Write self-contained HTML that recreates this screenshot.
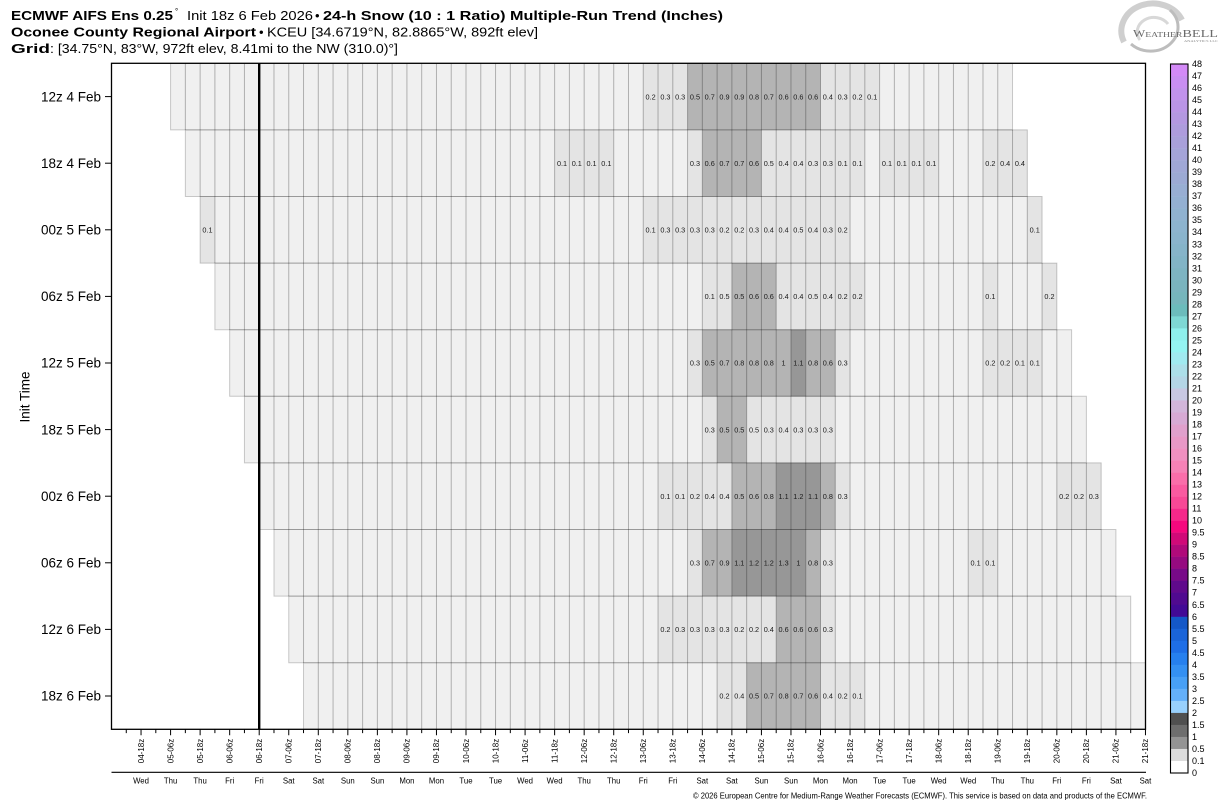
<!DOCTYPE html>
<html>
<head>
<meta charset="utf-8">
<style>
  html,body{margin:0;padding:0;background:#fff;}
  body{width:1226px;height:808px;overflow:hidden;}
  svg{display:block;font-family:"Liberation Sans",sans-serif;}
</style>
</head>
<body>
<svg width="1226" height="808" viewBox="0 0 1226 808" xmlns="http://www.w3.org/2000/svg">
  <!-- Title -->
  <g fill="#000" font-size="13">
    <text x="11" y="20" font-weight="bold" textLength="162" lengthAdjust="spacingAndGlyphs">ECMWF AIFS Ens 0.25</text>
    <text x="175" y="14" font-size="8">°</text>
    <text x="187" y="20" textLength="126" lengthAdjust="spacingAndGlyphs">Init 18z 6 Feb 2026</text>
    <text x="315" y="20">•</text>
    <text x="323" y="20" font-weight="bold" textLength="400" lengthAdjust="spacingAndGlyphs">24-h Snow (10 : 1 Ratio) Multiple-Run Trend (Inches)</text>

    <text x="11" y="36.5" font-weight="bold" textLength="245" lengthAdjust="spacingAndGlyphs">Oconee County Regional Airport</text>
    <text x="259" y="36.5">•</text>
    <text x="267" y="36.5" textLength="271" lengthAdjust="spacingAndGlyphs">KCEU [34.6719°N, 82.8865°W, 892ft elev]</text>

    <text x="11" y="53" font-weight="bold" textLength="39" lengthAdjust="spacingAndGlyphs">Grid</text>
    <text x="50" y="53" textLength="348" lengthAdjust="spacingAndGlyphs">: [34.75°N, 83°W, 972ft elev, 8.41mi to the NW (310.0)°]</text>
  </g>

  <!-- Logo -->
  <g fill="none">
    <path d="M1124,42 A31,27 0 1,1 1182,20" stroke="#cfcfcf" stroke-width="6"/>
    <path d="M1131,44 A24,21 0 1,0 1170,10" stroke="#bdbdbd" stroke-width="3"/>
    <path d="M1140,40 A15,13 0 1,1 1168,24" stroke="#d8d8d8" stroke-width="3"/>
  </g>
  <text x="1133" y="37" font-family="Liberation Serif, serif" fill="#6a6a6a" font-size="10" textLength="85" lengthAdjust="spacingAndGlyphs">W<tspan font-size="7.5">EATHER</tspan><tspan font-size="11">BELL</tspan></text>
  <text x="1184" y="42" font-family="Liberation Serif, serif" fill="#8a8a8a" font-size="3.5" textLength="34" lengthAdjust="spacingAndGlyphs">ANALYTICS LLC</text>

  <!-- Cell fills -->
  <g transform="translate(111.5 63.3) scale(14.771 66.6)">
    <g fill="#f0f0f0">
      <rect x="4" y="0" width="57" height="1"/>
      <rect x="5" y="1" width="57" height="1"/>
      <rect x="6" y="2" width="57" height="1"/>
      <rect x="7" y="3" width="57" height="1"/>
      <rect x="8" y="4" width="57" height="1"/>
      <rect x="9" y="5" width="57" height="1"/>
      <rect x="10" y="6" width="57" height="1"/>
      <rect x="11" y="7" width="57" height="1"/>
      <rect x="12" y="8" width="57" height="1"/>
      <rect x="13" y="9" width="57" height="1"/>
    </g>
    <g fill="#e4e4e4">
      <rect x="36" y="0" width="3" height="1"/>
      <rect x="48" y="0" width="4" height="1"/>
      <rect x="30" y="1" width="4" height="1"/>
      <rect x="39" y="1" width="1" height="1"/>
      <rect x="44" y="1" width="7" height="1"/>
      <rect x="52" y="1" width="4" height="1"/>
      <rect x="59" y="1" width="3" height="1"/>
      <rect x="6" y="2" width="1" height="1"/>
      <rect x="36" y="2" width="14" height="1"/>
      <rect x="62" y="2" width="1" height="1"/>
      <rect x="40" y="3" width="2" height="1"/>
      <rect x="45" y="3" width="6" height="1"/>
      <rect x="59" y="3" width="1" height="1"/>
      <rect x="63" y="3" width="1" height="1"/>
      <rect x="39" y="4" width="1" height="1"/>
      <rect x="49" y="4" width="1" height="1"/>
      <rect x="59" y="4" width="4" height="1"/>
      <rect x="40" y="5" width="1" height="1"/>
      <rect x="43" y="5" width="6" height="1"/>
      <rect x="37" y="6" width="5" height="1"/>
      <rect x="49" y="6" width="1" height="1"/>
      <rect x="64" y="6" width="3" height="1"/>
      <rect x="39" y="7" width="1" height="1"/>
      <rect x="48" y="7" width="1" height="1"/>
      <rect x="58" y="7" width="2" height="1"/>
      <rect x="37" y="8" width="8" height="1"/>
      <rect x="48" y="8" width="1" height="1"/>
      <rect x="41" y="9" width="2" height="1"/>
      <rect x="48" y="9" width="3" height="1"/>
    </g>
    <g fill="#b4b4b4">
      <rect x="39" y="0" width="9" height="1"/>
      <rect x="40" y="1" width="4" height="1"/>
      <rect x="42" y="3" width="3" height="1"/>
      <rect x="40" y="4" width="6" height="1"/>
      <rect x="47" y="4" width="2" height="1"/>
      <rect x="41" y="5" width="2" height="1"/>
      <rect x="42" y="6" width="3" height="1"/>
      <rect x="48" y="6" width="1" height="1"/>
      <rect x="40" y="7" width="2" height="1"/>
      <rect x="47" y="7" width="1" height="1"/>
      <rect x="45" y="8" width="3" height="1"/>
      <rect x="43" y="9" width="5" height="1"/>
    </g>
    <g fill="#979797">
      <rect x="46" y="4" width="1" height="1"/>
      <rect x="45" y="6" width="3" height="1"/>
      <rect x="42" y="7" width="5" height="1"/>
    </g>

    <!-- internal vertical lines -->
    <g stroke="#000" stroke-opacity="0.27" stroke-width="1" stroke-dasharray="0.0677 0.9323" fill="none">
      <line x1="4.9661" y1="0.5" x2="60.5" y2="0.5"/>
      <line x1="5.9661" y1="1.5" x2="61.5" y2="1.5"/>
      <line x1="6.9661" y1="2.5" x2="62.5" y2="2.5"/>
      <line x1="7.9661" y1="3.5" x2="63.5" y2="3.5"/>
      <line x1="8.9661" y1="4.5" x2="64.5" y2="4.5"/>
      <line x1="9.9661" y1="5.5" x2="65.5" y2="5.5"/>
      <line x1="10.9661" y1="6.5" x2="66.5" y2="6.5"/>
      <line x1="11.9661" y1="7.5" x2="67.5" y2="7.5"/>
      <line x1="12.9661" y1="8.5" x2="68.5" y2="8.5"/>
      <line x1="13.9661" y1="9.5" x2="69.5" y2="9.5"/>
    </g>
    <!-- row outlines -->
    <g fill="none" stroke="#000" stroke-opacity="0.2" stroke-width="1" vector-effect="non-scaling-stroke">
      <rect x="4" y="0" width="57" height="1" vector-effect="non-scaling-stroke"/>
      <rect x="5" y="1" width="57" height="1" vector-effect="non-scaling-stroke"/>
      <rect x="6" y="2" width="57" height="1" vector-effect="non-scaling-stroke"/>
      <rect x="7" y="3" width="57" height="1" vector-effect="non-scaling-stroke"/>
      <rect x="8" y="4" width="57" height="1" vector-effect="non-scaling-stroke"/>
      <rect x="9" y="5" width="57" height="1" vector-effect="non-scaling-stroke"/>
      <rect x="10" y="6" width="57" height="1" vector-effect="non-scaling-stroke"/>
      <rect x="11" y="7" width="57" height="1" vector-effect="non-scaling-stroke"/>
      <rect x="12" y="8" width="57" height="1" vector-effect="non-scaling-stroke"/>
      <rect x="13" y="9" width="57" height="1" vector-effect="non-scaling-stroke"/>
    </g>
  </g>

  <!-- Cell values -->
  <g font-size="7.3" fill="#1a1a1a" text-anchor="middle">
    <text y="99.3"><tspan x="650.64">0.2</tspan><tspan x="665.41">0.3</tspan><tspan x="680.18">0.3</tspan><tspan x="694.95">0.5</tspan><tspan x="709.73">0.7</tspan><tspan x="724.50">0.9</tspan><tspan x="739.27">0.9</tspan><tspan x="754.04">0.8</tspan><tspan x="768.81">0.7</tspan><tspan x="783.58">0.6</tspan><tspan x="798.35">0.6</tspan><tspan x="813.12">0.6</tspan><tspan x="827.89">0.4</tspan><tspan x="842.66">0.3</tspan><tspan x="857.44">0.2</tspan><tspan x="872.21">0.1</tspan></text>
    <text y="165.9"><tspan x="562.02">0.1</tspan><tspan x="576.79">0.1</tspan><tspan x="591.56">0.1</tspan><tspan x="606.33">0.1</tspan><tspan x="694.95">0.3</tspan><tspan x="709.73">0.6</tspan><tspan x="724.50">0.7</tspan><tspan x="739.27">0.7</tspan><tspan x="754.04">0.6</tspan><tspan x="768.81">0.5</tspan><tspan x="783.58">0.4</tspan><tspan x="798.35">0.4</tspan><tspan x="813.12">0.3</tspan><tspan x="827.89">0.3</tspan><tspan x="842.66">0.1</tspan><tspan x="857.44">0.1</tspan><tspan x="886.98">0.1</tspan><tspan x="901.75">0.1</tspan><tspan x="916.52">0.1</tspan><tspan x="931.29">0.1</tspan><tspan x="990.37">0.2</tspan><tspan x="1005.15">0.4</tspan><tspan x="1019.92">0.4</tspan></text>
    <text y="232.5"><tspan x="207.51">0.1</tspan><tspan x="650.64">0.1</tspan><tspan x="665.41">0.3</tspan><tspan x="680.18">0.3</tspan><tspan x="694.95">0.3</tspan><tspan x="709.73">0.3</tspan><tspan x="724.50">0.2</tspan><tspan x="739.27">0.2</tspan><tspan x="754.04">0.3</tspan><tspan x="768.81">0.4</tspan><tspan x="783.58">0.4</tspan><tspan x="798.35">0.5</tspan><tspan x="813.12">0.4</tspan><tspan x="827.89">0.3</tspan><tspan x="842.66">0.2</tspan><tspan x="1034.69">0.1</tspan></text>
    <text y="299.1"><tspan x="709.73">0.1</tspan><tspan x="724.50">0.5</tspan><tspan x="739.27">0.5</tspan><tspan x="754.04">0.6</tspan><tspan x="768.81">0.6</tspan><tspan x="783.58">0.4</tspan><tspan x="798.35">0.4</tspan><tspan x="813.12">0.5</tspan><tspan x="827.89">0.4</tspan><tspan x="842.66">0.2</tspan><tspan x="857.44">0.2</tspan><tspan x="990.37">0.1</tspan><tspan x="1049.46">0.2</tspan></text>
    <text y="365.7"><tspan x="694.95">0.3</tspan><tspan x="709.73">0.5</tspan><tspan x="724.50">0.7</tspan><tspan x="739.27">0.8</tspan><tspan x="754.04">0.8</tspan><tspan x="768.81">0.8</tspan><tspan x="783.58">1</tspan><tspan x="798.35">1.1</tspan><tspan x="813.12">0.8</tspan><tspan x="827.89">0.6</tspan><tspan x="842.66">0.3</tspan><tspan x="990.37">0.2</tspan><tspan x="1005.15">0.2</tspan><tspan x="1019.92">0.1</tspan><tspan x="1034.69">0.1</tspan></text>
    <text y="432.3"><tspan x="709.73">0.3</tspan><tspan x="724.50">0.5</tspan><tspan x="739.27">0.5</tspan><tspan x="754.04">0.5</tspan><tspan x="768.81">0.3</tspan><tspan x="783.58">0.4</tspan><tspan x="798.35">0.3</tspan><tspan x="813.12">0.3</tspan><tspan x="827.89">0.3</tspan></text>
    <text y="498.9"><tspan x="665.41">0.1</tspan><tspan x="680.18">0.1</tspan><tspan x="694.95">0.2</tspan><tspan x="709.73">0.4</tspan><tspan x="724.50">0.4</tspan><tspan x="739.27">0.5</tspan><tspan x="754.04">0.6</tspan><tspan x="768.81">0.8</tspan><tspan x="783.58">1.1</tspan><tspan x="798.35">1.2</tspan><tspan x="813.12">1.1</tspan><tspan x="827.89">0.8</tspan><tspan x="842.66">0.3</tspan><tspan x="1064.23">0.2</tspan><tspan x="1079.00">0.2</tspan><tspan x="1093.77">0.3</tspan></text>
    <text y="565.5"><tspan x="694.95">0.3</tspan><tspan x="709.73">0.7</tspan><tspan x="724.50">0.9</tspan><tspan x="739.27">1.1</tspan><tspan x="754.04">1.2</tspan><tspan x="768.81">1.2</tspan><tspan x="783.58">1.3</tspan><tspan x="798.35">1</tspan><tspan x="813.12">0.8</tspan><tspan x="827.89">0.3</tspan><tspan x="975.60">0.1</tspan><tspan x="990.37">0.1</tspan></text>
    <text y="632.1"><tspan x="665.41">0.2</tspan><tspan x="680.18">0.3</tspan><tspan x="694.95">0.3</tspan><tspan x="709.73">0.3</tspan><tspan x="724.50">0.3</tspan><tspan x="739.27">0.2</tspan><tspan x="754.04">0.2</tspan><tspan x="768.81">0.4</tspan><tspan x="783.58">0.6</tspan><tspan x="798.35">0.6</tspan><tspan x="813.12">0.6</tspan><tspan x="827.89">0.3</tspan></text>
    <text y="698.7"><tspan x="724.50">0.2</tspan><tspan x="739.27">0.4</tspan><tspan x="754.04">0.5</tspan><tspan x="768.81">0.7</tspan><tspan x="783.58">0.8</tspan><tspan x="798.35">0.7</tspan><tspan x="813.12">0.6</tspan><tspan x="827.89">0.4</tspan><tspan x="842.66">0.2</tspan><tspan x="857.44">0.1</tspan></text>
  </g>

  <!-- Plot frame & current time line -->
  <rect x="111.5" y="63.3" width="1034" height="666" fill="none" stroke="#000" stroke-width="1.3"/>
  <line x1="259.2" y1="63.3" x2="259.2" y2="729.3" stroke="#000" stroke-width="2.4"/>

  <!-- Y axis -->
  <g stroke="#000" stroke-width="1">
    <line x1="105" y1="96.6" x2="111.5" y2="96.6"/>
    <line x1="105" y1="163.2" x2="111.5" y2="163.2"/>
    <line x1="105" y1="229.8" x2="111.5" y2="229.8"/>
    <line x1="105" y1="296.4" x2="111.5" y2="296.4"/>
    <line x1="105" y1="363.0" x2="111.5" y2="363.0"/>
    <line x1="105" y1="429.6" x2="111.5" y2="429.6"/>
    <line x1="105" y1="496.2" x2="111.5" y2="496.2"/>
    <line x1="105" y1="562.8" x2="111.5" y2="562.8"/>
    <line x1="105" y1="629.4" x2="111.5" y2="629.4"/>
    <line x1="105" y1="696.0" x2="111.5" y2="696.0"/>
  </g>
  <g font-size="13.5" fill="#000" text-anchor="end">
    <text x="101" y="101.3">12z 4 Feb</text>
    <text x="101" y="167.9">18z 4 Feb</text>
    <text x="101" y="234.5">00z 5 Feb</text>
    <text x="101" y="301.1">06z 5 Feb</text>
    <text x="101" y="367.7">12z 5 Feb</text>
    <text x="101" y="434.3">18z 5 Feb</text>
    <text x="101" y="500.9">00z 6 Feb</text>
    <text x="101" y="567.5">06z 6 Feb</text>
    <text x="101" y="634.1">12z 6 Feb</text>
    <text x="101" y="700.7">18z 6 Feb</text>
  </g>
  <text transform="translate(29.5 397) rotate(-90)" text-anchor="middle" font-size="13.5" fill="#000">Init Time</text>

  <!-- X axis ticks -->
  <line x1="140.54" y1="732.3" x2="1147" y2="732.3" stroke="#000" stroke-width="6" stroke-dasharray="1 28.542"/>
  <line x1="125.77" y1="731.2" x2="1132" y2="731.2" stroke="#000" stroke-width="3.8" stroke-dasharray="1 28.542"/>

  <!-- X axis rotated labels -->
  <g font-size="8" fill="#000" text-anchor="middle">
    <text transform="translate(143.8 751) rotate(-90)">04-18z</text>
    <text transform="translate(173.3 751) rotate(-90)">05-06z</text>
    <text transform="translate(202.9 751) rotate(-90)">05-18z</text>
    <text transform="translate(232.4 751) rotate(-90)">06-06z</text>
    <text transform="translate(262.0 751) rotate(-90)">06-18z</text>
    <text transform="translate(291.5 751) rotate(-90)">07-06z</text>
    <text transform="translate(321.0 751) rotate(-90)">07-18z</text>
    <text transform="translate(350.6 751) rotate(-90)">08-06z</text>
    <text transform="translate(380.1 751) rotate(-90)">08-18z</text>
    <text transform="translate(409.7 751) rotate(-90)">09-06z</text>
    <text transform="translate(439.2 751) rotate(-90)">09-18z</text>
    <text transform="translate(468.8 751) rotate(-90)">10-06z</text>
    <text transform="translate(498.3 751) rotate(-90)">10-18z</text>
    <text transform="translate(527.8 751) rotate(-90)">11-06z</text>
    <text transform="translate(557.4 751) rotate(-90)">11-18z</text>
    <text transform="translate(586.9 751) rotate(-90)">12-06z</text>
    <text transform="translate(616.5 751) rotate(-90)">12-18z</text>
    <text transform="translate(646.0 751) rotate(-90)">13-06z</text>
    <text transform="translate(675.5 751) rotate(-90)">13-18z</text>
    <text transform="translate(705.1 751) rotate(-90)">14-06z</text>
    <text transform="translate(734.6 751) rotate(-90)">14-18z</text>
    <text transform="translate(764.2 751) rotate(-90)">15-06z</text>
    <text transform="translate(793.7 751) rotate(-90)">15-18z</text>
    <text transform="translate(823.3 751) rotate(-90)">16-06z</text>
    <text transform="translate(852.8 751) rotate(-90)">16-18z</text>
    <text transform="translate(882.3 751) rotate(-90)">17-06z</text>
    <text transform="translate(911.9 751) rotate(-90)">17-18z</text>
    <text transform="translate(941.4 751) rotate(-90)">18-06z</text>
    <text transform="translate(971.0 751) rotate(-90)">18-18z</text>
    <text transform="translate(1000.5 751) rotate(-90)">19-06z</text>
    <text transform="translate(1030.0 751) rotate(-90)">19-18z</text>
    <text transform="translate(1059.6 751) rotate(-90)">20-06z</text>
    <text transform="translate(1089.1 751) rotate(-90)">20-18z</text>
    <text transform="translate(1118.7 751) rotate(-90)">21-06z</text>
    <text transform="translate(1148.2 751) rotate(-90)">21-18z</text>
  </g>

  <line x1="111.5" y1="772.3" x2="1146" y2="772.3" stroke="#000" stroke-width="1.2"/>

  <!-- Day names -->
  <text y="783.5" font-size="7.8" fill="#000" text-anchor="middle"><tspan x="141.04">Wed</tspan><tspan x="170.58">Thu</tspan><tspan x="200.13">Thu</tspan><tspan x="229.67">Fri</tspan><tspan x="259.21">Fri</tspan><tspan x="288.75">Sat</tspan><tspan x="318.29">Sat</tspan><tspan x="347.84">Sun</tspan><tspan x="377.38">Sun</tspan><tspan x="406.92">Mon</tspan><tspan x="436.46">Mon</tspan><tspan x="466.00">Tue</tspan><tspan x="495.55">Tue</tspan><tspan x="525.09">Wed</tspan><tspan x="554.63">Wed</tspan><tspan x="584.17">Thu</tspan><tspan x="613.71">Thu</tspan><tspan x="643.26">Fri</tspan><tspan x="672.80">Fri</tspan><tspan x="702.34">Sat</tspan><tspan x="731.88">Sat</tspan><tspan x="761.42">Sun</tspan><tspan x="790.97">Sun</tspan><tspan x="820.51">Mon</tspan><tspan x="850.05">Mon</tspan><tspan x="879.59">Tue</tspan><tspan x="909.13">Tue</tspan><tspan x="938.68">Wed</tspan><tspan x="968.22">Wed</tspan><tspan x="997.76">Thu</tspan><tspan x="1027.30">Thu</tspan><tspan x="1056.84">Fri</tspan><tspan x="1086.39">Fri</tspan><tspan x="1115.93">Sat</tspan><tspan x="1145.47">Sat</tspan></text>

  <!-- Copyright -->
  <text x="693" y="798.5" font-size="8.3" fill="#000" textLength="454" lengthAdjust="spacingAndGlyphs">© 2026 European Centre for Medium-Range Weather Forecasts (ECMWF). This service is based on data and products of the ECMWF.</text>

  <!-- Colorbar -->
  <g transform="translate(1170.5 64) scale(17.5 12.017)">
    <rect x="0" y="0" width="1" height="1.02" fill="#d38af7"/>
    <rect x="0" y="1" width="1" height="1.02" fill="#c98ef2"/>
    <rect x="0" y="2" width="1" height="1.02" fill="#c192ec"/>
    <rect x="0" y="3" width="1" height="1.02" fill="#ba95e6"/>
    <rect x="0" y="4" width="1" height="1.02" fill="#b498e1"/>
    <rect x="0" y="5" width="1" height="1.02" fill="#ae9cdd"/>
    <rect x="0" y="6" width="1" height="1.02" fill="#a9a0da"/>
    <rect x="0" y="7" width="1" height="1.02" fill="#a5a4d8"/>
    <rect x="0" y="8" width="1" height="1.02" fill="#a0a8d6"/>
    <rect x="0" y="9" width="1" height="1.02" fill="#9caad4"/>
    <rect x="0" y="10" width="1" height="1.02" fill="#98aed3"/>
    <rect x="0" y="11" width="1" height="1.02" fill="#94b0d2"/>
    <rect x="0" y="12" width="1" height="1.02" fill="#90b2d0"/>
    <rect x="0" y="13" width="1" height="1.02" fill="#8db4ce"/>
    <rect x="0" y="14" width="1" height="1.02" fill="#8ab4cc"/>
    <rect x="0" y="15" width="1" height="1.02" fill="#86b4c9"/>
    <rect x="0" y="16" width="1" height="1.02" fill="#82b4c6"/>
    <rect x="0" y="17" width="1" height="1.02" fill="#7eb4c2"/>
    <rect x="0" y="18" width="1" height="1.02" fill="#7ab4be"/>
    <rect x="0" y="19" width="1" height="1.02" fill="#76b6bc"/>
    <rect x="0" y="20" width="1" height="1.02" fill="#6cbcbc"/>
    <rect x="0" y="21" width="1" height="1.02" fill="#7ed8d4"/>
    <rect x="0" y="22" width="1" height="1.02" fill="#8ef0ec"/>
    <rect x="0" y="23" width="1" height="1.02" fill="#94f4f2"/>
    <rect x="0" y="24" width="1" height="1.02" fill="#a0eaf0"/>
    <rect x="0" y="25" width="1" height="1.02" fill="#acdfe9"/>
    <rect x="0" y="26" width="1" height="1.02" fill="#b4d6e6"/>
    <rect x="0" y="27" width="1" height="1.02" fill="#c8c8e2"/>
    <rect x="0" y="28" width="1" height="1.02" fill="#d2b6da"/>
    <rect x="0" y="29" width="1" height="1.02" fill="#d7aad4"/>
    <rect x="0" y="30" width="1" height="1.02" fill="#e0a0cc"/>
    <rect x="0" y="31" width="1" height="1.02" fill="#e898c6"/>
    <rect x="0" y="32" width="1" height="1.02" fill="#f090c0"/>
    <rect x="0" y="33" width="1" height="1.02" fill="#f582b6"/>
    <rect x="0" y="34" width="1" height="1.02" fill="#fa6eaa"/>
    <rect x="0" y="35" width="1" height="1.02" fill="#fa5aa0"/>
    <rect x="0" y="36" width="1" height="1.02" fill="#f84896"/>
    <rect x="0" y="37" width="1" height="1.02" fill="#f5288a"/>
    <rect x="0" y="38" width="1" height="1.02" fill="#f5087e"/>
    <rect x="0" y="39" width="1" height="1.02" fill="#d00a78"/>
    <rect x="0" y="40" width="1" height="1.02" fill="#b00a7a"/>
    <rect x="0" y="41" width="1" height="1.02" fill="#960a80"/>
    <rect x="0" y="42" width="1" height="1.02" fill="#780a88"/>
    <rect x="0" y="43" width="1" height="1.02" fill="#600a8c"/>
    <rect x="0" y="44" width="1" height="1.02" fill="#500a90"/>
    <rect x="0" y="45" width="1" height="1.02" fill="#420a96"/>
    <rect x="0" y="46" width="1" height="1.02" fill="#1458c8"/>
    <rect x="0" y="47" width="1" height="1.02" fill="#1a64d8"/>
    <rect x="0" y="48" width="1" height="1.02" fill="#1e6ee6"/>
    <rect x="0" y="49" width="1" height="1.02" fill="#2680ee"/>
    <rect x="0" y="50" width="1" height="1.02" fill="#3490f2"/>
    <rect x="0" y="51" width="1" height="1.02" fill="#48a0f6"/>
    <rect x="0" y="52" width="1" height="1.02" fill="#64b0fa"/>
    <rect x="0" y="53" width="1" height="1.02" fill="#98d0fc"/>
    <rect x="0" y="54" width="1" height="1.02" fill="#505050"/>
    <rect x="0" y="55" width="1" height="1.02" fill="#6e6e6e"/>
    <rect x="0" y="56" width="1" height="1.02" fill="#949494"/>
    <rect x="0" y="57" width="1" height="1.02" fill="#dcdcdc"/>
    <rect x="0" y="58" width="1" height="1" fill="#ffffff"/>
  </g>
  <rect x="1170.5" y="64" width="17.5" height="709" fill="none" stroke="#000" stroke-width="1.1"/>

  <g font-size="9" fill="#000">
    <text x="1192"><tspan x="1192" y="67.0">48</tspan><tspan x="1192" y="79.0">47</tspan><tspan x="1192" y="91.0">46</tspan><tspan x="1192" y="103.1">45</tspan><tspan x="1192" y="115.1">44</tspan><tspan x="1192" y="127.1">43</tspan><tspan x="1192" y="139.1">42</tspan><tspan x="1192" y="151.1">41</tspan><tspan x="1192" y="163.1">40</tspan><tspan x="1192" y="175.2">39</tspan><tspan x="1192" y="187.2">38</tspan><tspan x="1192" y="199.2">37</tspan><tspan x="1192" y="211.2">36</tspan><tspan x="1192" y="223.2">35</tspan><tspan x="1192" y="235.2">34</tspan><tspan x="1192" y="247.3">33</tspan><tspan x="1192" y="259.3">32</tspan><tspan x="1192" y="271.3">31</tspan><tspan x="1192" y="283.3">30</tspan><tspan x="1192" y="295.3">29</tspan><tspan x="1192" y="307.3">28</tspan><tspan x="1192" y="319.4">27</tspan><tspan x="1192" y="331.4">26</tspan><tspan x="1192" y="343.4">25</tspan><tspan x="1192" y="355.4">24</tspan><tspan x="1192" y="367.4">23</tspan><tspan x="1192" y="379.4">22</tspan><tspan x="1192" y="391.5">21</tspan><tspan x="1192" y="403.5">20</tspan><tspan x="1192" y="415.5">19</tspan><tspan x="1192" y="427.5">18</tspan><tspan x="1192" y="439.5">17</tspan><tspan x="1192" y="451.5">16</tspan><tspan x="1192" y="463.6">15</tspan><tspan x="1192" y="475.6">14</tspan><tspan x="1192" y="487.6">13</tspan><tspan x="1192" y="499.6">12</tspan><tspan x="1192" y="511.6">11</tspan><tspan x="1192" y="523.6">10</tspan><tspan x="1192" y="535.7">9.5</tspan><tspan x="1192" y="547.7">9</tspan><tspan x="1192" y="559.7">8.5</tspan><tspan x="1192" y="571.7">8</tspan><tspan x="1192" y="583.7">7.5</tspan><tspan x="1192" y="595.7">7</tspan><tspan x="1192" y="607.8">6.5</tspan><tspan x="1192" y="619.8">6</tspan><tspan x="1192" y="631.8">5.5</tspan><tspan x="1192" y="643.8">5</tspan><tspan x="1192" y="655.8">4.5</tspan><tspan x="1192" y="667.8">4</tspan><tspan x="1192" y="679.9">3.5</tspan><tspan x="1192" y="691.9">3</tspan><tspan x="1192" y="703.9">2.5</tspan><tspan x="1192" y="715.9">2</tspan><tspan x="1192" y="727.9">1.5</tspan><tspan x="1192" y="739.9">1</tspan><tspan x="1192" y="752.0">0.5</tspan><tspan x="1192" y="764.0">0.1</tspan><tspan x="1192" y="776.0">0</tspan></text>
  </g>
</svg>
</body>
</html>
